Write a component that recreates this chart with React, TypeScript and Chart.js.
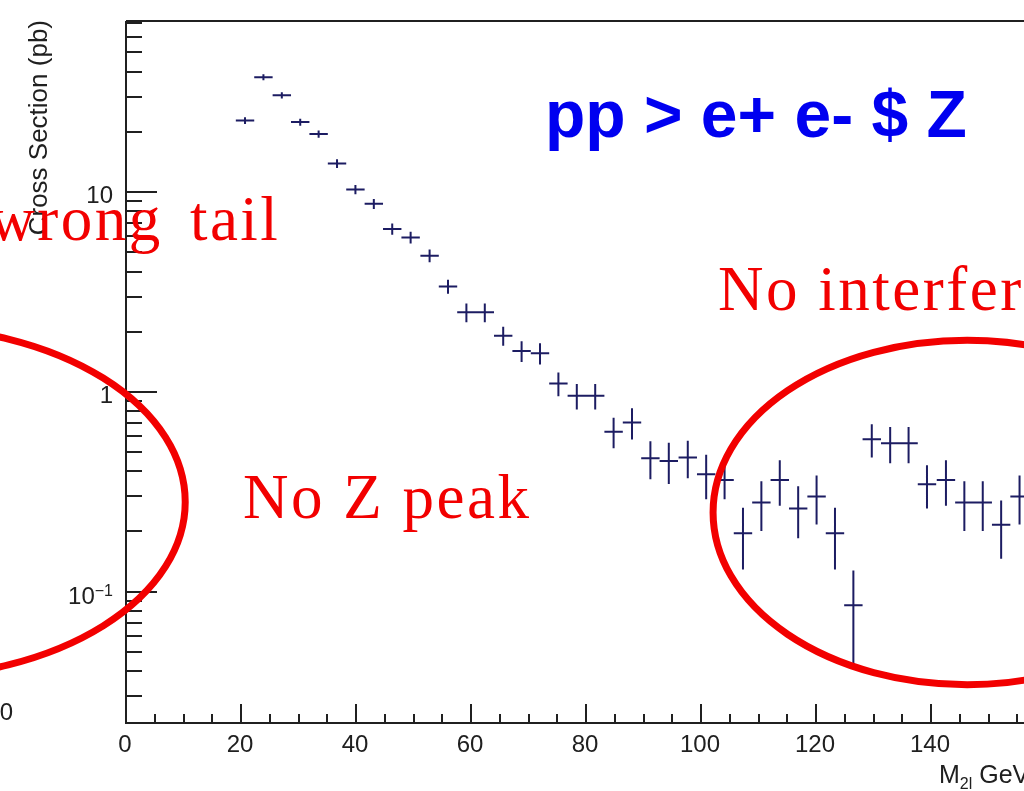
import React, { useEffect, useRef } from 'react';
import { Chart, registerables } from 'chart.js';

Chart.register(...registerables);

// ---------- data ----------
const MASS_BINS = [
  20.7, 23.9, 27.1, 30.3, 33.5, 36.7, 39.9, 43.1, 46.3, 49.5, 52.8, 56.0, 59.2, 62.4, 65.6,
  68.8, 72.0, 75.2, 78.4, 81.6, 84.8, 88.0, 91.2, 94.4, 97.7, 100.9, 104.1, 107.3, 110.5,
  113.7, 116.9, 120.1, 123.3, 126.5, 129.7, 132.9, 136.1, 139.3, 142.6, 145.8, 149.0, 152.2, 155.4,
];
const CROSS_SECTION = [
  22.8, 37.6, 30.5, 22.4, 19.5, 13.9, 10.3, 8.73, 6.54, 5.93, 4.8, 3.37, 2.5, 2.5, 1.91,
  1.6, 1.56, 1.1, 0.955, 0.955, 0.632, 0.702, 0.465, 0.451, 0.469, 0.387, 0.362, 0.196, 0.279,
  0.362, 0.261, 0.299, 0.196, 0.0855, 0.579, 0.553, 0.553, 0.345, 0.362, 0.279, 0.279, 0.216, 0.299,
];
const CROSS_SECTION_ERR = [
  0.9, 1.3, 1.1, 0.9, 0.8, 0.7, 0.55, 0.5, 0.42, 0.4, 0.35, 0.27, 0.27, 0.27, 0.21,
  0.19, 0.19, 0.15, 0.14, 0.14, 0.11, 0.125, 0.1, 0.105, 0.1, 0.097, 0.072, 0.067, 0.078,
  0.093, 0.076, 0.082, 0.067, 0.042, 0.11, 0.114, 0.114, 0.084, 0.093, 0.078, 0.078, 0.07, 0.082,
];
const BIN_HALF_WIDTH = 1.6;

const X_MAJOR_TICKS = [0, 20, 40, 60, 80, 100, 120, 140, 160];
const X_TICK_LABELS = ['0', '20', '40', '60', '80', '100', '120', '140', '160'];
const X_MINOR_TICKS = [
  5, 10, 15, 25, 30, 35, 45, 50, 55, 65, 70, 75, 85, 90, 95, 105, 110, 115, 125, 130, 135, 145, 150, 155,
];
const Y_MAJOR_TICKS = [0.1, 1, 10];
const Y_TICK_BASES = ['10', '1', '10'];
const Y_TICK_EXPONENTS = ['\u22121', '', ''];
const Y_MINOR_TICKS = [
  0.03, 0.04, 0.05, 0.06, 0.07, 0.08, 0.09, 0.2, 0.3, 0.4, 0.5, 0.6, 0.7, 0.8, 0.9,
  2, 3, 4, 5, 6, 7, 8, 9, 20, 30, 40, 50, 60, 70,
];

const Y_TITLE = 'Cross Section (pb)';
const X_TITLE_MAIN = 'M';
const X_TITLE_SUB = '2l';
const X_TITLE_UNIT = ' GeV';

// annotations, anchored in data coordinates
const RED_NOTES = [
  { text: 'wrong tail', x: -23.8, y: 5.78, wordSpacing: 9 },
  { text: 'No Z peak', x: 20.35, y: 0.2335, wordSpacing: 0 },
  { text: 'No interference', x: 102.96, y: 2.577, wordSpacing: 0 },
];
const BLUE_NOTE = { text: 'pp > e+ e- $ Z', x: 72.87, y: 18.76 };
const RED_ELLIPSES = [
  { cx: -38.4, cy: 0.281, rx: 48.7, ryDecades: 0.877 },
  { cx: 146.3, cy: 0.249, rx: 44.2, ryDecades: 0.862 },
];

const SANS = '"Liberation Sans", Arial, Helvetica, sans-serif';
const SERIF = '"Liberation Serif", "Times New Roman", serif';
const AXIS_COLOR = '#202020';
const MARK_COLOR = '#1c1c62';
const RED = '#f20000';
const BLUE = '#0000f0';

const rootStyle = {
  id: 'rootStyle',
  beforeDraw(chart: any) {
    const { ctx, width, height } = chart;
    ctx.save();
    ctx.fillStyle = '#ffffff';
    ctx.fillRect(0, 0, width, height);
    ctx.restore();
  },
  afterDraw(chart: any) {
    const { ctx, chartArea: a } = chart;
    const xs = chart.scales.x;
    const ys = chart.scales.y;
    ctx.save();

    // ----- frame / axes -----
    ctx.strokeStyle = AXIS_COLOR;
    ctx.lineWidth = 2;
    ctx.beginPath();
    ctx.moveTo(a.left, a.top);
    ctx.lineTo(a.right, a.top);
    ctx.moveTo(a.left, a.top);
    ctx.lineTo(a.left, a.bottom);
    ctx.lineTo(a.right, a.bottom);
    ctx.stroke();

    // x ticks (inward)
    ctx.beginPath();
    X_MAJOR_TICKS.forEach((v) => {
      const px = Math.round(xs.getPixelForValue(v));
      ctx.moveTo(px, a.bottom);
      ctx.lineTo(px, a.bottom - 19);
    });
    X_MINOR_TICKS.forEach((v) => {
      const px = Math.round(xs.getPixelForValue(v));
      ctx.moveTo(px, a.bottom);
      ctx.lineTo(px, a.bottom - 9);
    });
    // y ticks (inward)
    Y_MAJOR_TICKS.forEach((v) => {
      const py = Math.round(ys.getPixelForValue(v));
      ctx.moveTo(a.left, py);
      ctx.lineTo(a.left + 31, py);
    });
    Y_MINOR_TICKS.forEach((v) => {
      const py = Math.round(ys.getPixelForValue(v));
      ctx.moveTo(a.left, py);
      ctx.lineTo(a.left + 16, py);
    });
    ctx.stroke();

    // tick labels
    ctx.fillStyle = AXIS_COLOR;
    ctx.textBaseline = 'alphabetic';
    ctx.font = `24px ${SANS}`;
    ctx.textAlign = 'center';
    X_MAJOR_TICKS.forEach((v, i) => {
      ctx.fillText(X_TICK_LABELS[i], xs.getPixelForValue(v) - 1, a.bottom + 29);
    });
    Y_MAJOR_TICKS.forEach((v, i) => {
      const py = ys.getPixelForValue(v);
      const right = a.left - 13;
      const exp = Y_TICK_EXPONENTS[i];
      if (exp) {
        ctx.font = `16px ${SANS}`;
        const w = ctx.measureText(exp).width;
        ctx.textAlign = 'left';
        ctx.fillText(exp, right - w, py + 4);
        ctx.font = `24px ${SANS}`;
        ctx.textAlign = 'right';
        ctx.fillText(Y_TICK_BASES[i], right - w, py + 12);
      } else {
        ctx.font = `24px ${SANS}`;
        ctx.textAlign = 'right';
        ctx.fillText(Y_TICK_BASES[i], right, py + 11);
      }
    });

    // fragment of a neighbouring label at the far left
    ctx.font = `24px ${SANS}`;
    ctx.textAlign = 'right';
    ctx.fillText('0', 13, a.bottom - 3);

    // axis titles
    ctx.save();
    ctx.translate(a.left - 79, a.top - 1);
    ctx.rotate(-Math.PI / 2);
    ctx.textAlign = 'right';
    ctx.font = `26px ${SANS}`;
    ctx.fillText(Y_TITLE, 0, 0);
    ctx.restore();

    ctx.textAlign = 'left';
    let tx = a.left + 813;
    const tb = a.bottom + 60;
    ctx.font = `25px ${SANS}`;
    ctx.fillText(X_TITLE_MAIN, tx, tb);
    tx += ctx.measureText(X_TITLE_MAIN).width;
    ctx.font = `16px ${SANS}`;
    ctx.fillText(X_TITLE_SUB, tx, tb + 6);
    tx += ctx.measureText(X_TITLE_SUB).width;
    ctx.font = `25px ${SANS}`;
    ctx.fillText(X_TITLE_UNIT, tx, tb);

    // ----- histogram error crosses -----
    ctx.save();
    ctx.beginPath();
    ctx.rect(a.left, a.top, a.right - a.left, a.bottom - a.top);
    ctx.clip();
    ctx.strokeStyle = MARK_COLOR;
    ctx.lineWidth = 2;
    ctx.beginPath();
    MASS_BINS.forEach((x, i) => {
      const v = CROSS_SECTION[i];
      const e = CROSS_SECTION_ERR[i];
      const px = xs.getPixelForValue(x);
      const py = ys.getPixelForValue(v);
      ctx.moveTo(xs.getPixelForValue(x - BIN_HALF_WIDTH), py);
      ctx.lineTo(xs.getPixelForValue(x + BIN_HALF_WIDTH), py);
      const lo = v - e > 0 ? ys.getPixelForValue(v - e) : a.bottom;
      ctx.moveTo(px, ys.getPixelForValue(v + e));
      ctx.lineTo(px, lo);
    });
    ctx.stroke();
    ctx.restore();

    // ----- red ellipses -----
    ctx.strokeStyle = RED;
    ctx.lineWidth = 7;
    RED_ELLIPSES.forEach((el) => {
      const cx = xs.getPixelForValue(el.cx);
      const cy = ys.getPixelForValue(el.cy);
      const rx = xs.getPixelForValue(el.cx + el.rx) - cx;
      const ry = cy - ys.getPixelForValue(el.cy * Math.pow(10, el.ryDecades));
      ctx.beginPath();
      ctx.ellipse(cx, cy, rx, ry, 0, 0, Math.PI * 2);
      ctx.stroke();
    });

    // ----- text notes -----
    ctx.textAlign = 'left';
    ctx.textBaseline = 'alphabetic';
    ctx.fillStyle = RED;
    ctx.font = `63px ${SERIF}`;
    (ctx as any).letterSpacing = '2.5px';
    RED_NOTES.forEach((n) => {
      (ctx as any).wordSpacing = `${n.wordSpacing}px`;
      ctx.fillText(n.text, xs.getPixelForValue(n.x), ys.getPixelForValue(n.y));
    });
    (ctx as any).letterSpacing = '0px';
    (ctx as any).wordSpacing = '0px';
    ctx.fillStyle = BLUE;
    ctx.font = `bold 66px ${SANS}`;
    ctx.fillText(BLUE_NOTE.text, xs.getPixelForValue(BLUE_NOTE.x), ys.getPixelForValue(BLUE_NOTE.y));

    ctx.restore();
  },
};

export default function App() {
  const ref = useRef<HTMLCanvasElement>(null);
  useEffect(() => {
    if (!ref.current) return;
    const points = MASS_BINS.map((x, i) => ({ x, y: CROSS_SECTION[i] }));
    const chart = new Chart(ref.current, {
      type: 'scatter',
      data: {
        datasets: [
          {
            label: 'Cross Section',
            data: points,
            pointRadius: 0,
            pointHoverRadius: 0,
            showLine: false,
            borderColor: MARK_COLOR,
            backgroundColor: MARK_COLOR,
          },
        ],
      },
      options: {
        animation: false,
        responsive: false,
        devicePixelRatio: 1,
        events: [],
        layout: { autoPadding: false, padding: { left: 126, top: 21, right: 0, bottom: 68 } },
        plugins: { legend: { display: false }, tooltip: { enabled: false }, title: { display: false } },
        scales: {
          x: { type: 'linear', min: 0, max: 160, display: false, bounds: 'data' },
          y: { type: 'logarithmic', min: 0.022, max: 71.8, display: false, bounds: 'data' },
        },
      } as any,
      plugins: [rootStyle],
    });
    return () => chart.destroy();
  }, []);
  return (
    <div
      style={{
        position: 'fixed',
        left: 0,
        top: 0,
        width: 1024,
        height: 791,
        overflow: 'hidden',
        background: '#ffffff',
      }}
    >
      <canvas ref={ref} width={1046} height={791} style={{ display: 'block', width: 1046, height: 791 }} />
    </div>
  );
}
